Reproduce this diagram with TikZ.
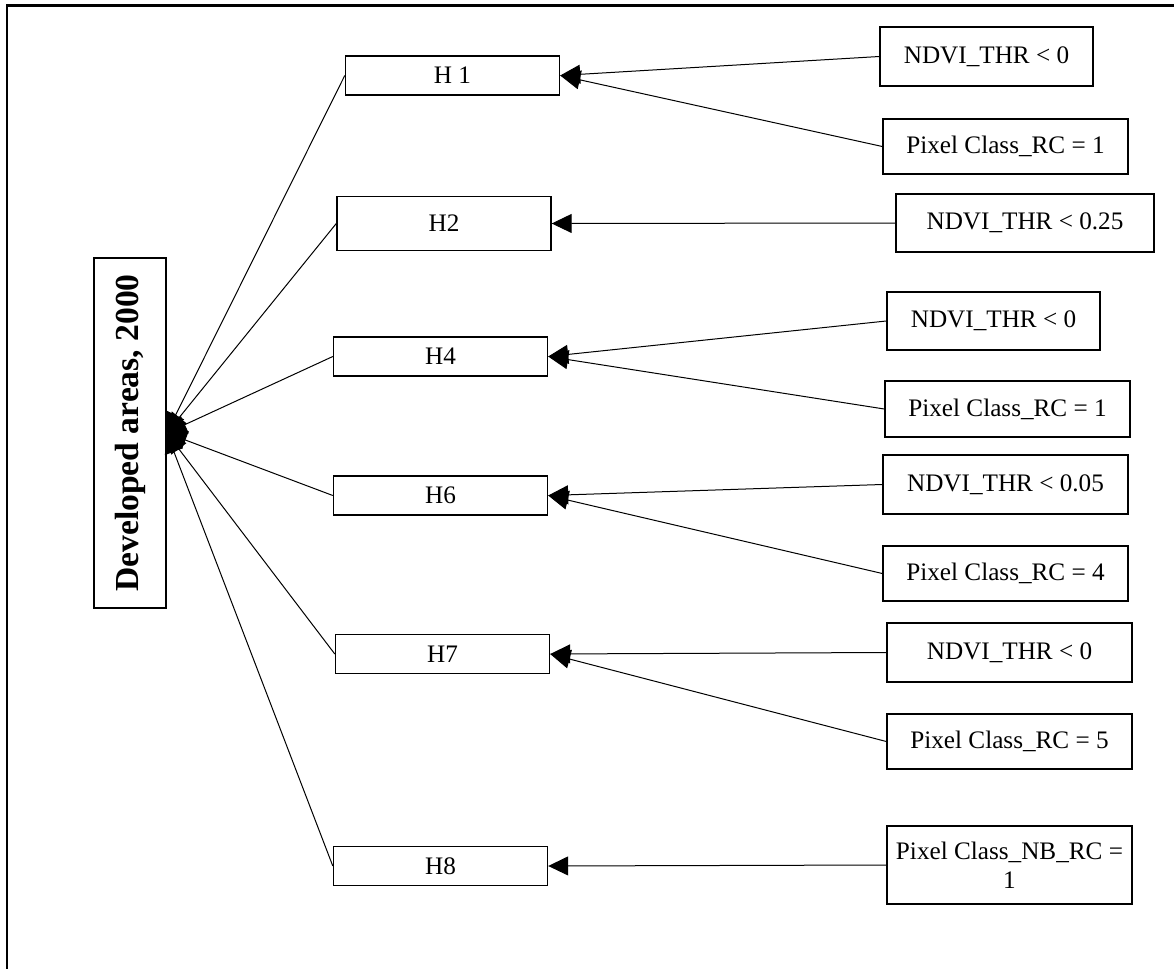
\documentclass[tikz,border=0pt]{standalone}
\usepackage{fontspec}
\setmainfont{Liberation Serif}
\usepackage{tikz}
\usetikzlibrary{arrows.meta}

\begin{document}
\begin{tikzpicture}[x=0.5pt, y=-0.5pt, mainbox/.style={draw, line width=0.7pt, rotate=90, inner sep=0pt, minimum width=175pt, minimum height=36pt, font=\fontsize{16.8}{20}\selectfont\bfseries}, hbox/.style={draw, line width=0.7pt, inner sep=0pt, minimum width=107pt, minimum height=19.5pt, font=\fontsize{12.6}{14.5}\selectfont}, cond/.style={draw, line width=0.7pt, inner sep=0pt, minimum width=122.5pt, minimum height=29pt, align=center, font=\fontsize{12.6}{14.5}\selectfont}, arrow/.style={-{Triangle[length=10pt,width=9.5pt]}, line width=0.5pt}]
\useasboundingbox (0,0) rectangle (1174,969);
\draw[line width=1.1pt] (7,969) -- (7,5.5) -- (1174,5.5);
\node[mainbox] (main) at (130,433) {Developed areas, 2000};
\node[hbox] (h1) at (452.5,75.5) {H 1};
\node[hbox, minimum height=27pt] (h2) at (444,223.5) {H2};
\node[hbox] (h4) at (440.5,356.5) {H4};
\node[hbox] (h6) at (440.5,495.5) {H6};
\node[hbox] (h7) at (442.5,654) {H7};
\node[hbox] (h8) at (440.5,866) {H8};
\node[cond, minimum width=106.5pt, minimum height=29.5pt] (c1) at (986.5,56.5) {NDVI\_THR < 0};
\node[cond, minimum height=27.5pt] (c2) at (1005.5,146.5) {Pixel Class\_RC = 1};
\node[cond, minimum width=129pt] (c3) at (1025,223) {NDVI\_THR < 0.25};
\node[cond, minimum width=106.5pt] (c4) at (993.5,321) {NDVI\_THR < 0};
\node[cond, minimum height=28pt] (c5) at (1007.5,409) {Pixel Class\_RC = 1};
\node[cond, minimum height=29.5pt] (c6) at (1005.5,484.5) {NDVI\_THR < 0.05};
\node[cond, minimum height=27.5pt] (c7) at (1005.5,573.5) {Pixel Class\_RC = 4};
\node[cond, minimum height=29.5pt] (c8) at (1009.5,652.5) {NDVI\_THR < 0};
\node[cond, minimum height=27.5pt] (c9) at (1009.5,741.5) {Pixel Class\_RC = 5};
\node[cond, minimum height=39pt] (c10) at (1009.5,865) {Pixel Class\_NB\_RC =\\1};
\draw[arrow] (c1.west) -- (h1.east);
\draw[arrow] (c2.west) -- (h1.east);
\draw[arrow] (c3.west) -- (h2.east);
\draw[arrow] (c4.west) -- (h4.east);
\draw[arrow] (c5.west) -- (h4.east);
\draw[arrow] (c6.west) -- (h6.east);
\draw[arrow] (c7.west) -- (h6.east);
\draw[arrow] (c8.west) -- (h7.east);
\draw[arrow] (c9.west) -- (h7.east);
\draw[arrow] (c10.west) -- (h8.east);
\foreach \h in {h1,h2,h4,h6,h7,h8}
  \draw[arrow] (\h.west) -- (main.south);
\end{tikzpicture}
\end{document}
